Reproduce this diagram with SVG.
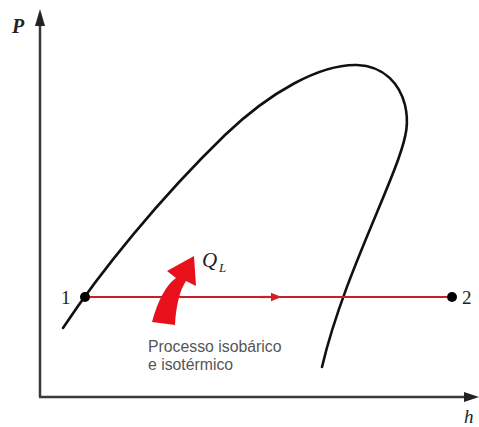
<svg xmlns="http://www.w3.org/2000/svg" width="479" height="427" viewBox="0 0 479 427">
<style>
.axis{stroke:#3a3a3a;stroke-width:2.5;fill:none}
.curve{stroke:#111;stroke-width:2.6;fill:none;stroke-linecap:round}
.lbl{font-family:"Liberation Serif",serif;font-style:italic;fill:#222}
.num{font-family:"Liberation Serif",serif;fill:#222;font-size:19px}
.note{font-family:"Liberation Sans",Arial,sans-serif;font-size:15.8px;fill:#555}
</style>
<defs>
<marker id="redarrow" viewBox="0 0 10 10" refX="5" refY="5" markerWidth="5" markerHeight="5" orient="auto">
<path d="M0,1 L10,5 L0,9 z" fill="#d0202a"/>
</marker>
</defs>
<rect width="479" height="427" fill="#fff"/>
<g id="axes">
<line class="axis" x1="40" y1="22" x2="40" y2="397"/>
<line class="axis" x1="39" y1="397" x2="468" y2="397"/>
<polygon points="40,9 35,26 45,26" fill="#222"/>
<polygon points="479,397 464,392 464,402" fill="#222"/>
<text class="lbl" x="12" y="33" font-size="20" font-weight="bold">P</text>
<text class="lbl" x="464" y="423" font-size="19">h</text>
</g>
<g id="dome">
<path class="curve" d="M63,328 C100,272 160,198 225,135 C270,92 320,64 357,65 C385,66 400,85 405,105 C409,122 407,135 398,160 C380,210 340,290 322,367"/>
</g>
<g id="connectors">
<line x1="85" y1="297" x2="452" y2="297" stroke="#c8202a" stroke-width="2.2"/>
<line x1="260" y1="297" x2="276" y2="297" stroke="#c8202a" stroke-width="2.2" marker-end="url(#redarrow)"/>
</g>
<g id="node1">
<circle cx="85" cy="297" r="5" fill="#000"/>
<text class="num" x="61" y="304">1</text>
</g>
<g id="node2">
<circle cx="452" cy="297" r="5" fill="#000"/>
<text class="num" x="462" y="304">2</text>
</g>
<g id="heat">
<path d="M152,322 C158,300 166,285 176,278 L167,271 L194,256 L196,286 L186,281 C180,290 176,305 175,325 Z" fill="#e8101a"/>
<text class="lbl" x="202" y="267" font-size="21">Q</text>
<text class="lbl" x="219" y="272" font-size="13">L</text>
</g>
<g id="note">
<text class="note" x="148" y="352">Processo isobárico</text>
<text class="note" x="148" y="370">e isotérmico</text>
</g>
</svg>
